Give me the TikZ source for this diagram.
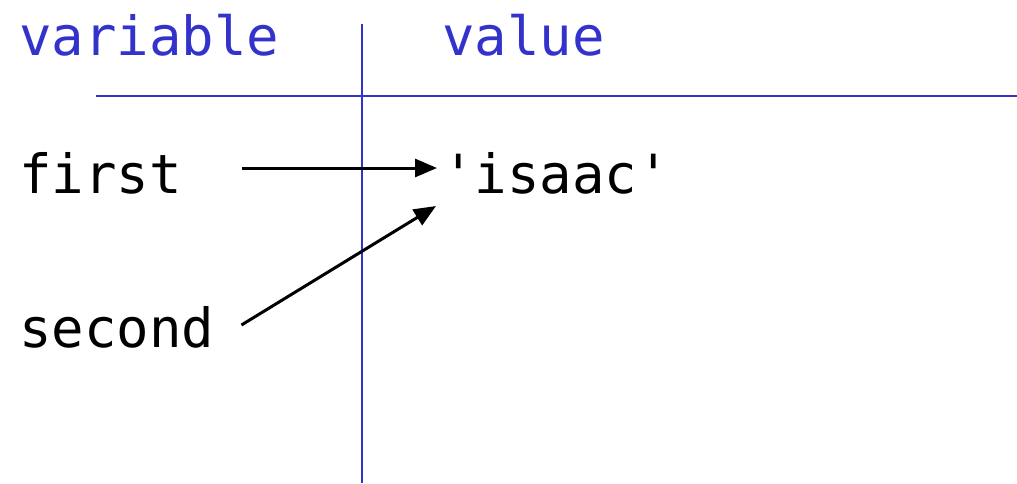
\documentclass[tikz,border=0pt]{standalone}
\usepackage{fontspec}
\usepackage{xcolor}
\setmonofont{DejaVu Sans Mono}
\usetikzlibrary{arrows.meta,calc}
\definecolor{headblue}{RGB}{51,51,204}

\begin{document}
\begin{tikzpicture}[x=1pt, y=-1pt,
    every node/.style={inner sep=0pt, anchor=base west, font=\ttfamily\fontsize{54}{60}\selectfont},
    head/.style={text=headblue},
    rule/.style={draw=headblue, line width=2pt},
    ref/.style={draw=black, line width=3pt, -{Triangle[length=22pt,width=18pt]}}]
    \useasboundingbox (0,0) rectangle (1017,483);

    % Table frame
    \node[head] (varhead) at (19,55) {variable};
    \node[head] (valhead) at (442,55) {value};
    \draw[rule] (96,96) -- (1017,96);
    \draw[rule] (362,24) -- (362,483);

    % Names and value
    \node (first) at (19,193) {first};
    \node (second) at (19,347) {second};
    \node (isaac) at (442,193) {'isaac'};

    % References
    \draw[ref] ($(first.base east)+(60,-25)$) -- ($(isaac.base west)+(-5,-25)$);
    \draw[ref] ($(second.base east)+(27,-22)$) -- ($(isaac.base west)+(-6,13)$);
\end{tikzpicture}
\end{document}
